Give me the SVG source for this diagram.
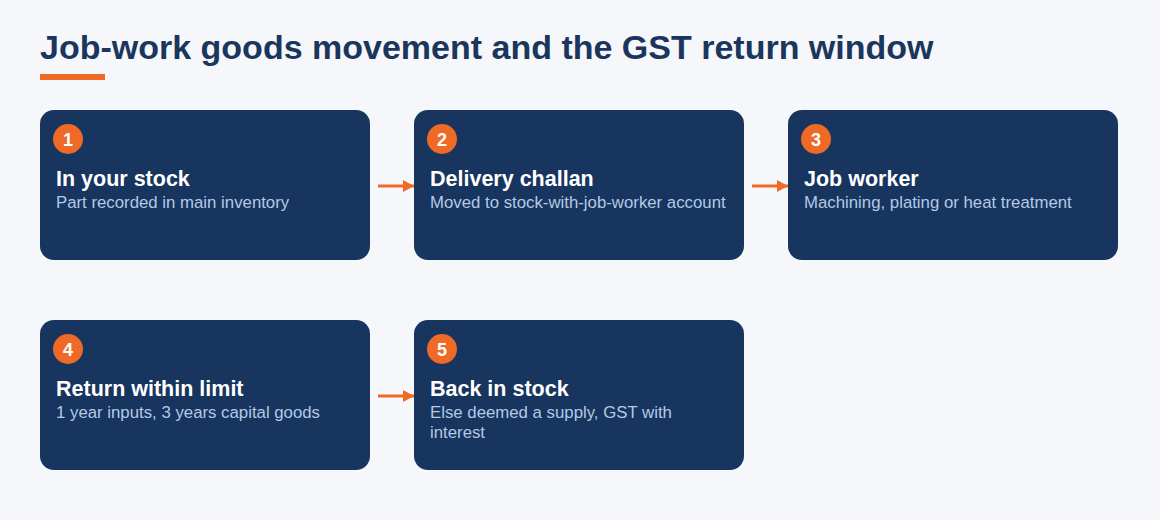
<svg xmlns="http://www.w3.org/2000/svg" width="1160" height="520" viewBox="0 0 1160 520">
<defs>
<style>
.bg{fill:#f5f7fa}
.title{font-family:"Liberation Sans",Arial,sans-serif;font-weight:bold;font-size:34px;fill:#1b365d}
.card{fill:#17355e}
.badge{fill:#ee6a26}
.num{font-family:"Liberation Sans",Arial,sans-serif;font-weight:bold;font-size:18px;fill:#ffffff;text-anchor:middle}
.h{font-family:"Liberation Sans",Arial,sans-serif;font-weight:bold;font-size:21.5px;fill:#ffffff}
.s{font-family:"Liberation Sans",Arial,sans-serif;font-size:16.8px;fill:#b4c9e6}
.conn{stroke:#ee6a26;stroke-width:3;fill:none}
</style>
<marker id="ah" markerWidth="12" markerHeight="12" refX="11" refY="6" orient="auto" markerUnits="userSpaceOnUse">
<path d="M0,0 L11,6 L0,12 Z" fill="#ee6a26"/>
</marker>
</defs>
<rect class="bg" x="0" y="0" width="1160" height="520"/>
<text class="title" x="40" y="59">Job-work goods movement and the GST return window</text>
<rect x="40" y="74" width="65" height="6" fill="#ee6a26"/>
<g id="n1">
<rect class="card" x="40" y="110" width="330" height="150" rx="14"/>
<circle class="badge" cx="68" cy="139" r="15"/>
<text class="num" x="68" y="145.5">1</text>
<text class="h" x="56" y="186">In your stock</text>
<text class="s" x="56" y="208">Part recorded in main inventory</text>
</g>
<g id="n2">
<rect class="card" x="414" y="110" width="330" height="150" rx="14"/>
<circle class="badge" cx="442" cy="139" r="15"/>
<text class="num" x="442" y="145.5">2</text>
<text class="h" x="430" y="186">Delivery challan</text>
<text class="s" x="430" y="208">Moved to stock-with-job-worker account</text>
</g>
<g id="n3">
<rect class="card" x="788" y="110" width="330" height="150" rx="14"/>
<circle class="badge" cx="816" cy="139" r="15"/>
<text class="num" x="816" y="145.5">3</text>
<text class="h" x="804" y="186">Job worker</text>
<text class="s" x="804" y="208">Machining, plating or heat treatment</text>
</g>
<g id="n4">
<rect class="card" x="40" y="320" width="330" height="150" rx="14"/>
<circle class="badge" cx="68" cy="349" r="15"/>
<text class="num" x="68" y="355.5">4</text>
<text class="h" x="56" y="396">Return within limit</text>
<text class="s" x="56" y="418">1 year inputs, 3 years capital goods</text>
</g>
<g id="n5">
<rect class="card" x="414" y="320" width="330" height="150" rx="14"/>
<circle class="badge" cx="442" cy="349" r="15"/>
<text class="num" x="442" y="355.5">5</text>
<text class="h" x="430" y="396">Back in stock</text>
<text class="s" x="430" y="418">Else deemed a supply, GST with</text>
<text class="s" x="430" y="438">interest</text>
</g>
<g id="connectors">
<line class="conn" x1="378" y1="186" x2="414" y2="186" marker-end="url(#ah)"/>
<line class="conn" x1="752" y1="186" x2="788" y2="186" marker-end="url(#ah)"/>
<line class="conn" x1="378" y1="396" x2="414" y2="396" marker-end="url(#ah)"/>
</g>
</svg>
